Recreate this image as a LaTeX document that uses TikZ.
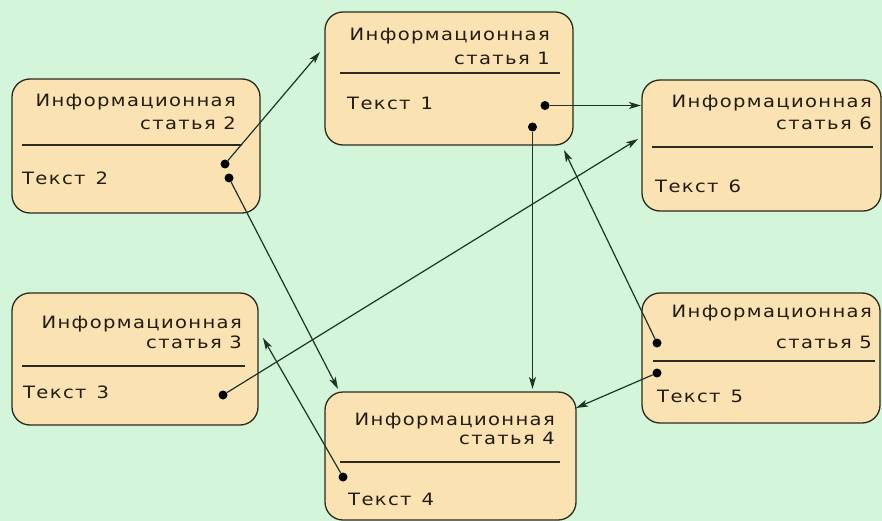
\documentclass[tikz,border=0pt]{standalone}
\usepackage{fontspec}
\setmainfont{DejaVu Sans}[FakeStretch=1.15,LetterSpace=8]
\usetikzlibrary{arrows.meta}
\definecolor{bg}{HTML}{D3F5D9}
\definecolor{boxfill}{HTML}{FBE2B2}
\definecolor{edge}{HTML}{2B2A20}
\definecolor{ink}{HTML}{221C10}
\definecolor{wire}{HTML}{1E3326}
\begin{document}
\begin{tikzpicture}[x=1pt,y=-1pt,
  card/.style={draw=edge,line width=1.3pt,fill=boxfill,rounded corners=18pt,inner sep=0pt},
  rule/.style={draw=edge,line width=1.3pt},
  ttl/.style={anchor=base east,inner sep=0pt,font=\fontsize{17}{20}\selectfont,text=ink},
  txt/.style={anchor=base west,inner sep=0pt,font=\fontsize{17}{20}\selectfont,text=ink},
  dot/.style={circle,fill=black,inner sep=0pt,minimum size=9pt},
  link/.style={draw=wire,line width=1.2pt,-{Stealth[length=12pt,width=7pt,inset=3pt]}}]
\useasboundingbox (0,0) rectangle (882,521);
\fill[bg] (0,0) rectangle (882,521);
% boxes
\node[card,minimum width=248pt,minimum height=133pt] (b1) at (449,78.5) {};
\node[card,minimum width=248pt,minimum height=134pt] (b2) at (136,146) {};
\node[card,minimum width=239pt,minimum height=131pt] (b6) at (761.5,145.5) {};
\node[card,minimum width=246pt,minimum height=132pt] (b3) at (135,359) {};
\node[card,minimum width=251pt,minimum height=128pt] (b4) at (450.5,456) {};
\node[card,minimum width=238pt,minimum height=130pt] (b5) at (761,358) {};
% dividers
\draw[rule] (340,73) -- (560,73);
\draw[rule] (22,145) -- (242,145);
\draw[rule] (652,147) -- (873,147);
\draw[rule] (22,366) -- (245,366);
\draw[rule] (340,462) -- (560,462);
\draw[rule] (653,361) -- (875,361);
% texts
\node[ttl] (h1a) at (550,41) {Информационная};
\node[ttl] (h1b) at (550,65) {статья 1};
\node[txt] (x1) at (347,110) {Текст\hspace{10pt}1};
\node[ttl] (h2a) at (236,107) {Информационная};
\node[ttl] (h2b) at (236,130) {статья 2};
\node[txt] (x2) at (22,185) {Текст\hspace{10pt}2};
\node[ttl] (h6a) at (872,108) {Информационная};
\node[ttl] (h6b) at (872,130) {статья 6};
\node[txt] (x6) at (655,193) {Текст\hspace{10pt}6};
\node[ttl] (h3a) at (242,328) {Информационная};
\node[ttl] (h3b) at (242,348) {статья 3};
\node[txt] (x3) at (23,398) {Текст\hspace{10pt}3};
\node[ttl] (h4a) at (555,425) {Информационная};
\node[ttl] (h4b) at (555,444) {статья 4};
\node[txt] (x4) at (348,505) {Текст\hspace{10pt}4};
\node[ttl] (h5a) at (872,317) {Информационная};
\node[ttl] (h5b) at (872,348) {статья 5};
\node[txt] (x5) at (657,402) {Текст\hspace{10pt}5};
% dots
\node[dot] (d2a) at (225,164) {};
\node[dot] (d2b) at (229,178) {};
\node[dot] (d1a) at (545,105.5) {};
\node[dot] (d1b) at (532.5,127) {};
\node[dot] (d5a) at (657,343) {};
\node[dot] (d5b) at (657,373) {};
\node[dot] (d3) at (223,395) {};
\node[dot] (d4) at (343,477) {};
% arrow targets
\coordinate (t1a) at (320,52);
\coordinate (t1b) at (564,150);
\coordinate (t4a) at (338,389);
\coordinate (t4b) at (532.5,389);
\coordinate (t4c) at (576,408);
\coordinate (t6a) at (641,105.5);
\coordinate (t6b) at (638,139);
\coordinate (t3) at (263,338);
% connectors
\draw[link] (d2a) -- (t1a);
\draw[link] (d2b) -- (t4a);
\draw[link] (d1a) -- (t6a);
\draw[link] (d1b) -- (t4b);
\draw[link] (d5a) -- (t1b);
\draw[link] (d5b) -- (t4c);
\draw[link] (d3) -- (t6b);
\draw[link] (d4) -- (t3);
\end{tikzpicture}
\end{document}
